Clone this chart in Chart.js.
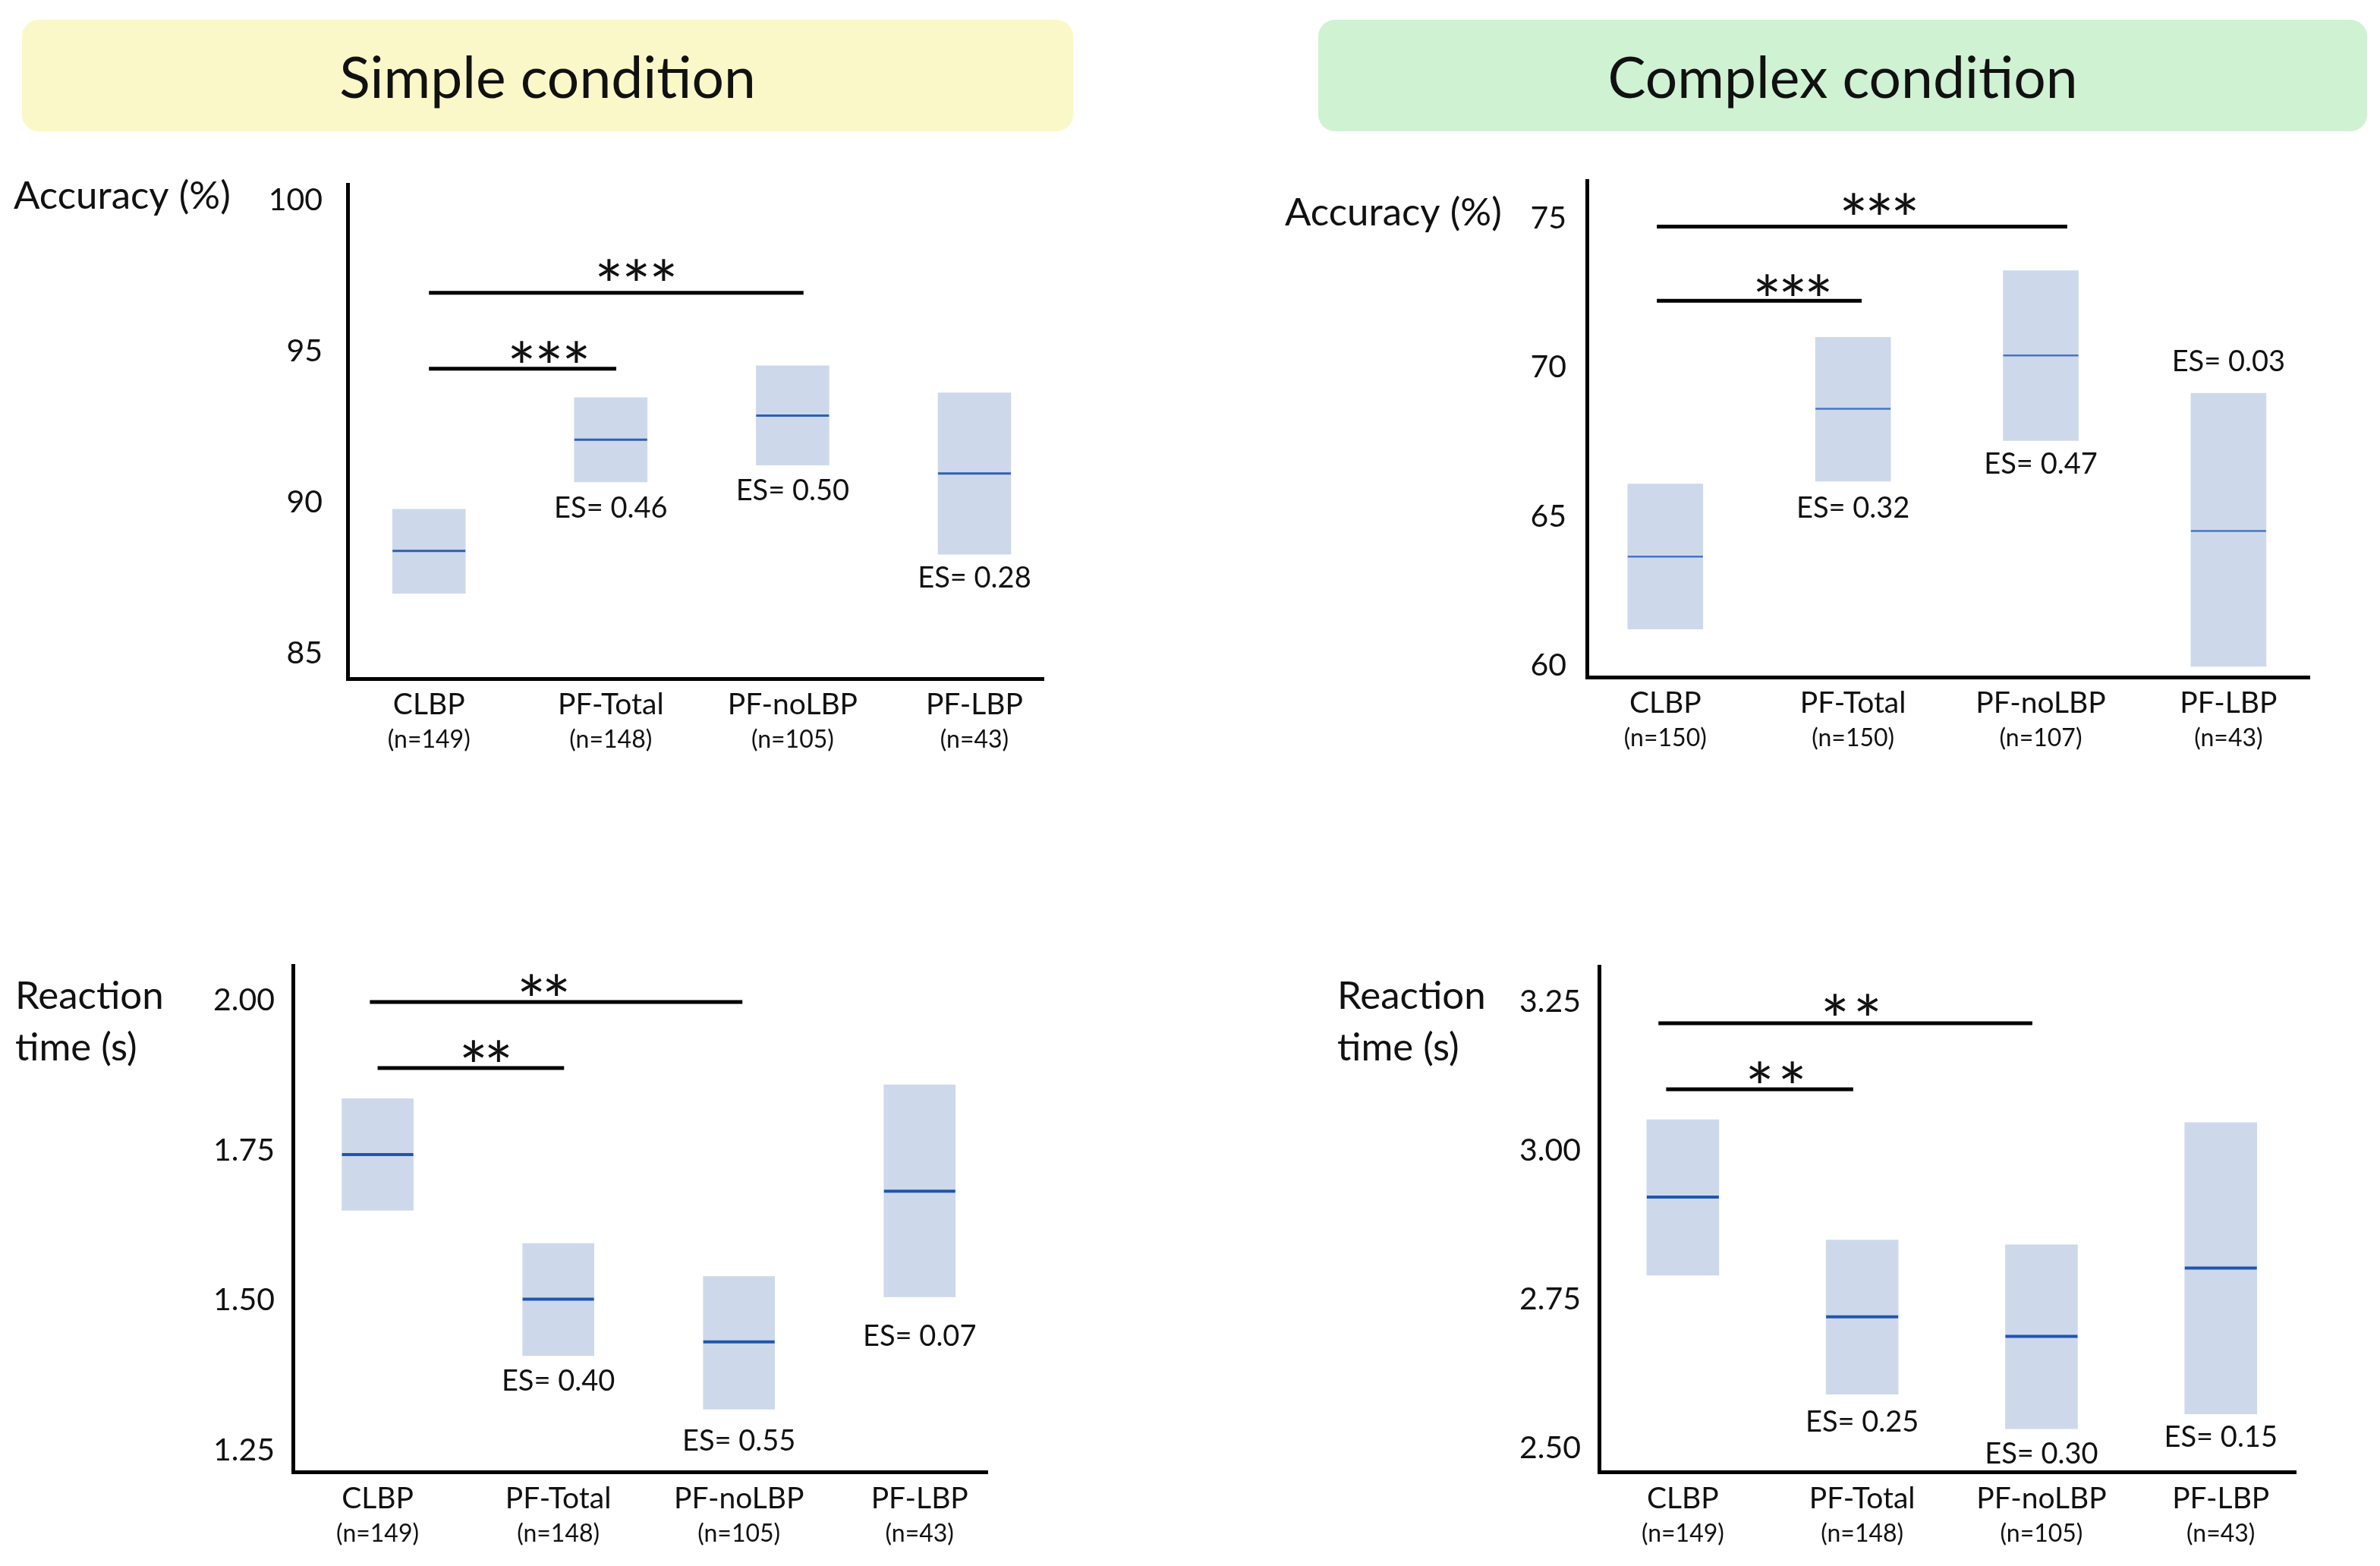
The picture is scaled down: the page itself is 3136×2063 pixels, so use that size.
<!DOCTYPE html>
<html>
<head>
<meta charset="utf-8">
<title>Simple and complex condition</title>
<script src="https://cdn.jsdelivr.net/npm/chart.js@4.4.1/dist/chart.umd.min.js"></script>
<style>
  html, body { margin: 0; padding: 0; background: #fff; }
  body { width: 3136px; height: 2063px; position: relative; overflow: hidden; font-family: Lato, "Open Sans", sans-serif; }
  .banner { position: absolute; top: 26px; height: 147px; border-radius: 22px; display: flex; align-items: center; justify-content: center; font-size: 75px; color: #111; }
  #bannerSimple { left: 29px; width: 1385px; background: #faf8c8; }
  #bannerComplex { left: 1737px; width: 1382px; background: #cff2d2; }
  canvas { position: absolute; }
</style>
</head>
<body>
<div class="banner" id="bannerSimple">Simple condition</div>
<div class="banner" id="bannerComplex">Complex condition</div>
<canvas id="simpleAcc"></canvas>
<canvas id="complexAcc"></canvas>
<canvas id="simpleRt"></canvas>
<canvas id="complexRt"></canvas>

<script>
const groups = ['CLBP', 'PF-Total', 'PF-noLBP', 'PF-LBP'];
const nSimple = [149, 148, 105, 43];
const nComplexAcc = [150, 150, 107, 43];
const nComplexRt = [149, 148, 105, 43];

// Simple condition - accuracy (%)
const simpleAccLow = [86.99, 90.68, 91.24, 88.29];
const simpleAccHigh = [89.78, 93.47, 94.53, 93.63];
const simpleAccMean = [88.40, 92.08, 92.88, 90.96];
const simpleAccTicks = [85, 90, 95, 100];
const simpleAccES = ['', 'ES= 0.46', 'ES= 0.50', 'ES= 0.28'];
const simpleAccEsAt = [null, 89.85, 90.42, 87.55];

// Complex condition - accuracy (%)
const complexAccLow = [61.22, 66.18, 67.54, 59.97];
const complexAccHigh = [66.09, 71.01, 73.24, 69.13];
const complexAccMean = [63.65, 68.61, 70.40, 64.51];
const complexAccTicks = [60, 65, 70, 75];
const complexAccES = ['', 'ES= 0.32', 'ES= 0.47', 'ES= 0.03'];
const complexAccEsAt = [null, 65.31, 66.80, 70.23];

// Simple condition - reaction time (s)
const simpleRtLow = [1.650, 1.408, 1.319, 1.506];
const simpleRtHigh = [1.836, 1.595, 1.540, 1.859];
const simpleRtMean = [1.743, 1.502, 1.431, 1.682];
const simpleRtTicks = [1.25, 1.50, 1.75, 2.00];
const simpleRtES = ['', 'ES= 0.40', 'ES= 0.55', 'ES= 0.07'];
const simpleRtEsAt = [null, 1.368, 1.268, 1.442];

// Complex condition - reaction time (s)
const complexRtLow = [2.791, 2.591, 2.533, 2.558];
const complexRtHigh = [3.052, 2.850, 2.842, 3.047];
const complexRtMean = [2.922, 2.721, 2.688, 2.803];
const complexRtTicks = [2.50, 2.75, 3.00, 3.25];
const complexRtES = ['', 'ES= 0.25', 'ES= 0.30', 'ES= 0.15'];
const complexRtEsAt = [null, 2.546, 2.492, 2.521];

// significance brackets: group index range, height, stars
const simpleAccSig = [
    { from: 0, to: 1.03, y: 94.43, stars: '***', at: 0.66, starY: 95.0 },
    { from: 0, to: 2.06, y: 96.94, stars: '***', at: 1.14, starY: 97.70 }
];
const complexAccSig = [
    { from: -0.045, to: 1.046, y: 72.23, stars: '***', at: 0.68, starY: 72.76 },
    { from: -0.045, to: 2.141, y: 74.72, stars: '***', at: 1.14, starY: 75.48 }
];
const simpleRtSig = [
    { from: 0, to: 1.032, y: 1.887, stars: '**', at: 0.60, starY: 1.916 },
    { from: -0.043, to: 2.019, y: 1.997, stars: '**', at: 0.92, starY: 2.025 }
];
const complexRtSig = [
    { from: -0.093, to: 0.950, y: 3.103, stars: '**', at: 0.52, starY: 3.132 },
    { from: -0.136, to: 1.949, y: 3.214, stars: '**', at: 0.94, starY: 3.245 }
];

const FONT = 'Lato, "Open Sans", sans-serif';
const BAR_FILL = '#cdd9eb';
const Y_AXIS_W = 140;

const panels = [
    {
        id: 'simpleAcc', left: 0, top: 180, width: 1568, height: 860,
        area: { left: 458, right: 1375, top: 243, bottom: 894 },
        xMin: -0.4475, xMax: 3.380, yMin: 84.17, yMax: 100.53, decimals: 0, tickPad: 33, barW: 96,
        low: simpleAccLow, high: simpleAccHigh, mean: simpleAccMean, ticks: simpleAccTicks,
        es: simpleAccES, esAt: simpleAccEsAt, sig: simpleAccSig, starGap: 36, n: nSimple,
        meanColor: '#2f5fb3', meanW: 3,
        title: ['Accuracy (%)'], titleX: 18, titleY: [275]
    },
    {
        id: 'complexAcc', left: 1568, top: 180, width: 1568, height: 860,
        area: { left: 2091, right: 3043, top: 238, bottom: 892 },
        xMin: -0.4175, xMax: 3.431, yMin: 59.61, yMax: 76.26, decimals: 0, tickPad: 27, barW: 99,
        low: complexAccLow, high: complexAccHigh, mean: complexAccMean, ticks: complexAccTicks,
        es: complexAccES, esAt: complexAccEsAt, sig: complexAccSig, starGap: 34, n: nComplexAcc,
        meanColor: '#4775c6', meanW: 2.5,
        title: ['Accuracy (%)'], titleX: 1693, titleY: [297]
    },
    {
        id: 'simpleRt', left: 0, top: 1200, width: 1568, height: 863,
        area: { left: 386, right: 1301, top: 1272, bottom: 1939.5 },
        xMin: -0.4687, xMax: 3.375, yMin: 1.214, yMax: 2.0576, decimals: 2, tickPad: 24, barW: 94,
        low: simpleRtLow, high: simpleRtHigh, mean: simpleRtMean, ticks: simpleRtTicks,
        es: simpleRtES, esAt: simpleRtEsAt, sig: simpleRtSig, starGap: 33, n: nSimple,
        meanColor: '#1f55b0', meanW: 4,
        title: ['Reaction', 'time (s)'], titleX: 20, titleY: [1329, 1397]
    },
    {
        id: 'complexRt', left: 1568, top: 1200, width: 1568, height: 863,
        area: { left: 2107.5, right: 3025, top: 1273, bottom: 1939.5 },
        xMin: -0.465, xMax: 3.418, yMin: 2.460, yMax: 3.3095, decimals: 2, tickPad: 24.5, barW: 95,
        low: complexRtLow, high: complexRtHigh, mean: complexRtMean, ticks: complexRtTicks,
        es: complexRtES, esAt: complexRtEsAt, sig: complexRtSig, starGap: 43, n: nComplexRt,
        meanColor: '#1f55b0', meanW: 4,
        title: ['Reaction', 'time (s)'], titleX: 1762, titleY: [1329, 1397]
    }
];

// draw text with its ink centred on yc
function centredText(ctx, text, x, yc, font, align) {
    ctx.font = font;
    ctx.textAlign = align || 'center';
    ctx.textBaseline = 'alphabetic';
    const m = ctx.measureText(text);
    ctx.fillText(text, x, yc + (m.actualBoundingBoxAscent - m.actualBoundingBoxDescent) / 2);
}

function decorPlugin(p) {
    return {
        id: 'decor_' + p.id,
        afterDatasetsDraw(chart) {
            const ctx = chart.ctx;
            const xs = chart.scales.x;
            const ys = chart.scales.y;
            const area = chart.chartArea;
            ctx.save();
            ctx.fillStyle = '#111';

            // significance brackets
            p.sig.forEach(s => {
                const yy = ys.getPixelForValue(s.y);
                ctx.strokeStyle = '#000';
                ctx.lineWidth = 5;
                ctx.beginPath();
                ctx.moveTo(xs.getPixelForValue(s.from), yy);
                ctx.lineTo(xs.getPixelForValue(s.to), yy);
                ctx.stroke();
                const cx = xs.getPixelForValue(s.at);
                const cy = ys.getPixelForValue(s.starY);
                const k = s.stars.length;
                for (let j = 0; j < k; j++) {
                    centredText(ctx, '*', cx + (j - (k - 1) / 2) * p.starGap, cy, '90px ' + FONT);
                }
            });

            // effect sizes
            p.es.forEach((t, i) => {
                if (!t) return;
                centredText(ctx, t, xs.getPixelForValue(i), ys.getPixelForValue(p.esAt[i]), '38px ' + FONT);
            });

            // group labels under the axis
            ctx.textAlign = 'center';
            ctx.textBaseline = 'alphabetic';
            groups.forEach((g, i) => {
                const x = xs.getPixelForValue(i);
                ctx.font = '39px ' + FONT;
                ctx.fillText(g, x, area.bottom + 47);
                ctx.font = '32px ' + FONT;
                ctx.fillText('(n=' + p.n[i] + ')', x, area.bottom + 91);
            });

            // axis title
            ctx.textAlign = 'left';
            ctx.font = '51px ' + FONT;
            p.title.forEach((line, j) => {
                ctx.fillText(line, p.titleX - p.left, p.titleY[j] - p.top);
            });
            ctx.restore();
        }
    };
}

function renderPanel(p) {
    const canvas = document.getElementById(p.id);
    canvas.width = p.width;
    canvas.height = p.height;
    canvas.style.left = p.left + 'px';
    canvas.style.top = p.top + 'px';

    new Chart(canvas, {
        type: 'bar',
        data: {
            datasets: [
                {
                    type: 'line',
                    data: p.mean.map((m, i) => ({ x: i, y: m })),
                    showLine: false,
                    pointStyle: 'line',
                    pointRadius: p.barW / 2,
                    pointBorderWidth: p.meanW,
                    pointBorderColor: p.meanColor,
                    pointBackgroundColor: p.meanColor,
                    order: 1
                },
                {
                    type: 'bar',
                    data: p.low.map((lo, i) => ({ x: i, y: [lo, p.high[i]] })),
                    backgroundColor: BAR_FILL,
                    borderWidth: 0,
                    barThickness: p.barW,
                    order: 2
                }
            ]
        },
        options: {
            responsive: false,
            devicePixelRatio: 1,
            animation: false,
            events: [],
            layout: {
                autoPadding: false,
                padding: {
                    left: p.area.left - p.left - Y_AXIS_W,
                    right: p.left + p.width - p.area.right,
                    top: p.area.top - p.top,
                    bottom: p.top + p.height - p.area.bottom
                }
            },
            plugins: {
                legend: { display: false },
                tooltip: { enabled: false }
            },
            scales: {
                x: {
                    type: 'linear',
                    min: p.xMin,
                    max: p.xMax,
                    offset: false,
                    grid: { display: false, drawTicks: false },
                    border: { display: true, color: '#000', width: 5 },
                    ticks: { display: false },
                    afterFit: s => { s.height = 0; }
                },
                y: {
                    min: p.yMin,
                    max: p.yMax,
                    beginAtZero: false,
                    grid: { display: false, drawTicks: false },
                    border: { display: true, color: '#000', width: 5 },
                    ticks: {
                        padding: p.tickPad,
                        color: '#111',
                        font: { family: FONT, size: 41 },
                        callback: v => Number(v).toFixed(p.decimals)
                    },
                    afterBuildTicks: s => { s.ticks = p.ticks.map(v => ({ value: v })); },
                    afterFit: s => { s.width = Y_AXIS_W; }
                }
            }
        },
        plugins: [decorPlugin(p)]
    });
}

document.addEventListener('DOMContentLoaded', () => {
    panels.forEach(renderPanel);
});
</script>
</body>
</html>
